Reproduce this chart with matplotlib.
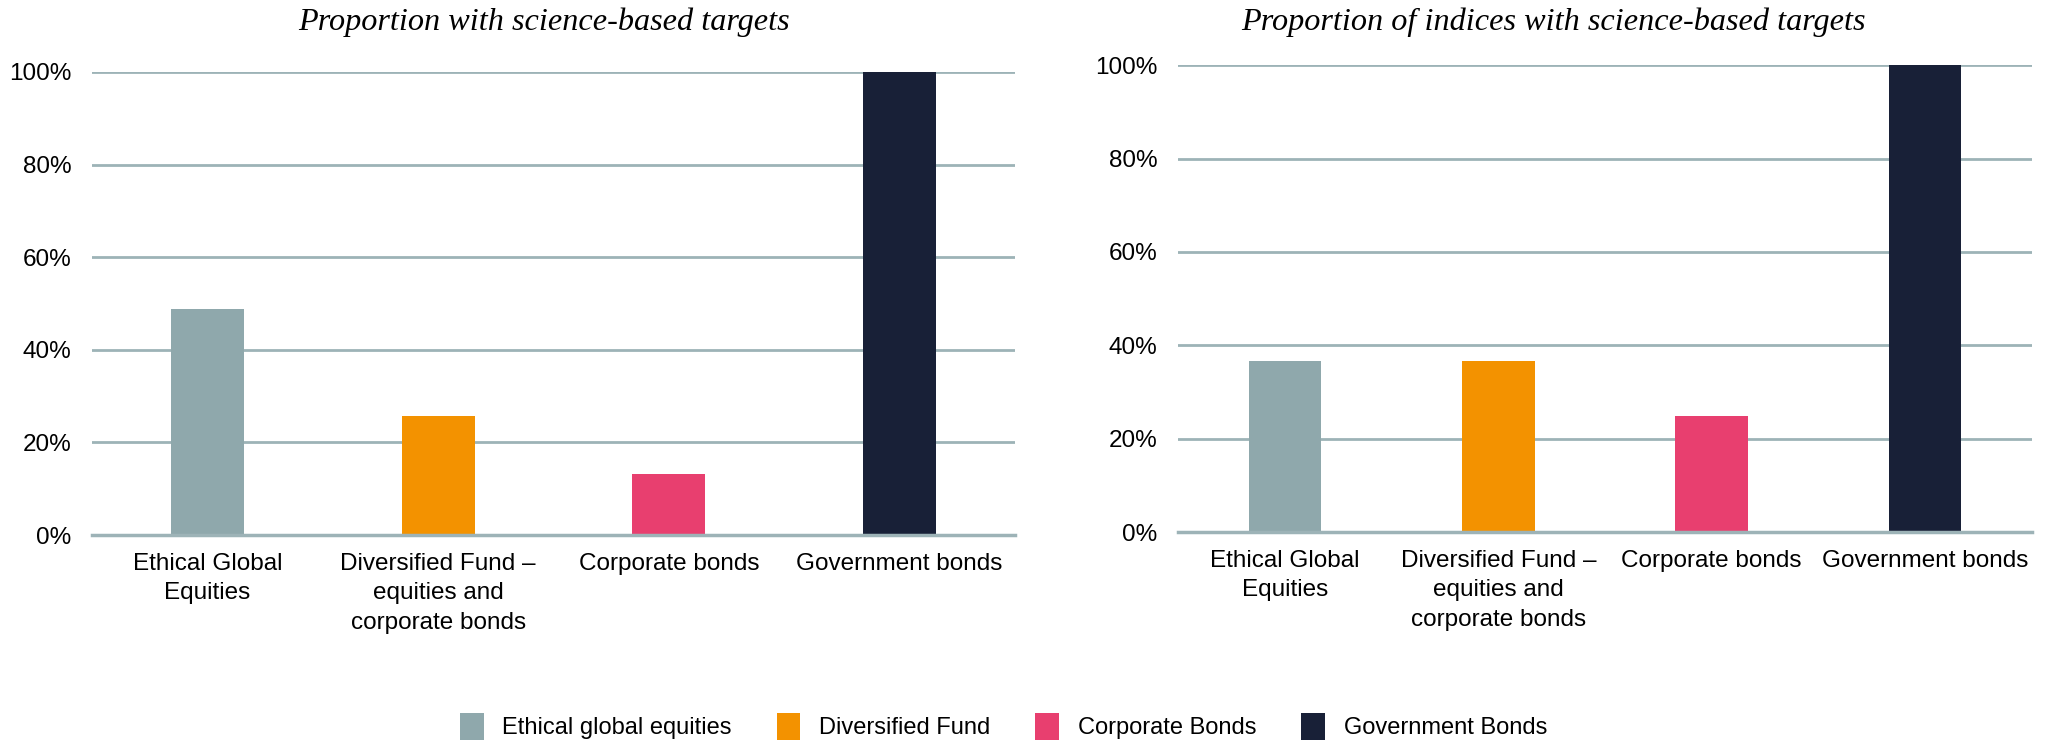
import matplotlib
matplotlib.use("Agg")
from matplotlib import pyplot as plt
from matplotlib.patches import Patch
from matplotlib.ticker import PercentFormatter

categories = ["Ethical Global\nEquities", "Diversified Fund –\nequities and\ncorporate bonds",
              "Corporate bonds", "Government bonds"]
legend_labels = ["Ethical global equities", "Diversified Fund", "Corporate Bonds", "Government Bonds"]
colors = ["#8FA8AC", "#F39200", "#E83F6F", "#182037"]

funds_share = [48.7, 25.6, 13.2, 100]
indices_share = [36.6, 36.6, 24.9, 100]

titles = ["Proportion with science-based targets", "Proportion of indices with science-based targets"]

GRID = "#9DB3B7"
plt.rcParams['font.family'] = ['Liberation Sans', 'DejaVu Sans']

fig = plt.figure(figsize=(20.46, 7.41), dpi=100)
ax1 = fig.add_axes([0.045, 0.278, 0.451, 0.625])
ax2 = fig.add_axes([0.576, 0.282, 0.417, 0.630])

for ax, vals, width in [(ax1, funds_share, 0.316), (ax2, indices_share, 0.34)]:
    x = range(len(categories))
    ax.bar(x, vals, width=width, color=colors, zorder=3)
    ax.set_xlim(-0.5, len(categories) - 0.5)
    ax.set_ylim(0, 100)
    ax.set_yticks(range(0, 101, 20))
    ax.yaxis.set_major_formatter(PercentFormatter(decimals=0))
    ax.set_xticks(list(x))
    ax.set_xticklabels(categories, fontsize=17.5, linespacing=1.43)
    ax.tick_params(axis='y', labelsize=17.5, length=0, pad=15)
    ax.tick_params(axis='x', length=0, pad=13)
    ax.grid(axis='y', color=GRID, linewidth=2, zorder=0)
    ax.set_axisbelow(True)
    for s in ['top', 'right', 'left']:
        ax.spines[s].set_visible(False)
    ax.spines['bottom'].set_color(GRID)
    ax.spines['bottom'].set_linewidth(2.5)
    ax.spines['bottom'].set_zorder(4)

fig.text(544 / 2046, 1 - 22 / 741, titles[0], ha='center', va='center',
         fontsize=23.2, style='italic', family='Liberation Serif')
fig.text(1553 / 2046, 1 - 22 / 741, titles[1], ha='center', va='center',
         fontsize=23.2, style='italic', family='Liberation Serif')

handles = [Patch(facecolor=c, edgecolor='none') for c in colors]
fig.legend(handles, legend_labels, loc='center', bbox_to_anchor=(0.4905, 0.02), ncol=4,
           frameon=False, fontsize=17, handlelength=1.0, handleheight=1.4,
           handletextpad=0.8, columnspacing=1.9)

fig.savefig("out.png", dpi=100)
